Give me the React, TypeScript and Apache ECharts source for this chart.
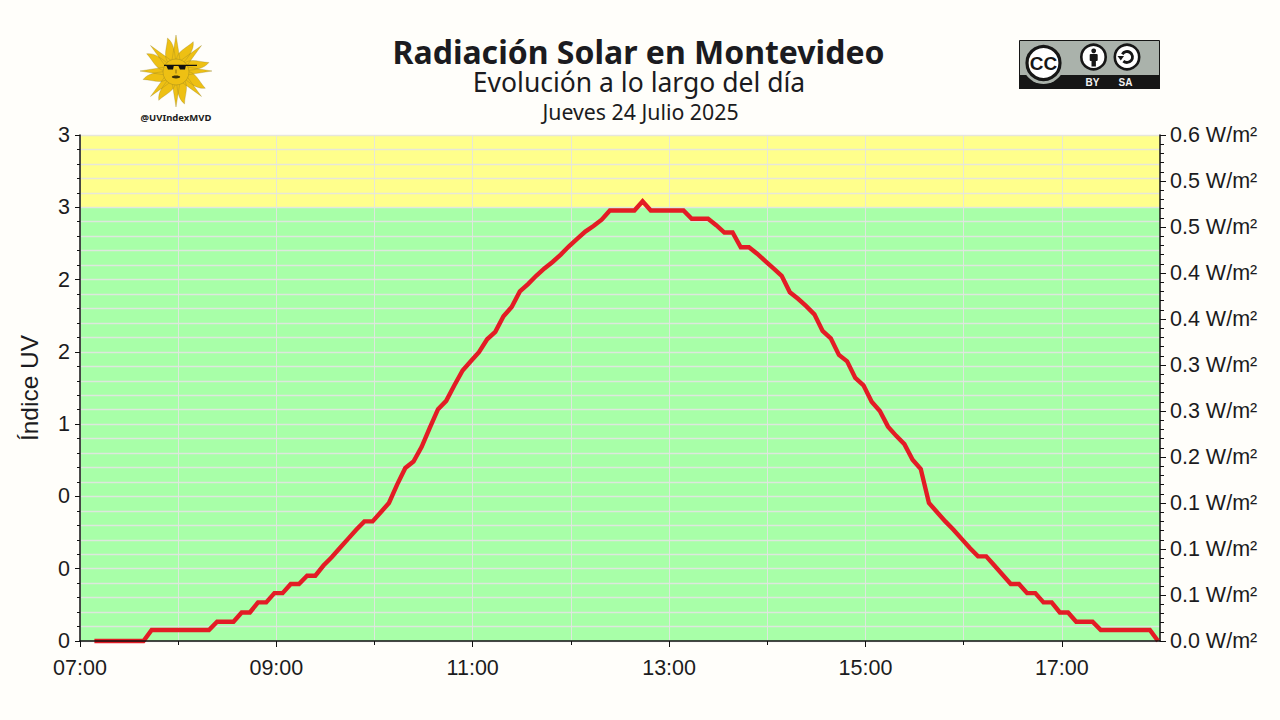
import React, { useEffect, useRef } from "react";
import * as echarts from "echarts";

const titleText = "Radiación Solar en Montevideo";
const subtitleText = "Evolución a lo largo del día";
const dateText = "Jueves 24 Julio 2025";
const handleText = "@UVIndexMVD";
const yAxisTitle = "Índice UV";

// Reference reading: samples every 5 minutes, first one a little after 07:08
const firstSampleMinute = 8.8;
const sampleStep = 5;
const radiation = [
  0, 0, 0, 0, 0, 0, 0,
  0.012, 0.012, 0.012, 0.012, 0.012, 0.012, 0.012, 0.012,
  0.021, 0.021, 0.021, 0.031, 0.031, 0.042, 0.042, 0.052, 0.052, 0.062, 0.062, 0.071, 0.071,
  0.082, 0.091, 0.101, 0.111, 0.121, 0.13, 0.13, 0.14, 0.15, 0.17, 0.188, 0.195, 0.211, 0.232, 0.252, 0.261,
  0.278, 0.294, 0.304, 0.314, 0.328, 0.336, 0.353, 0.363, 0.38, 0.388, 0.397, 0.405, 0.412, 0.42, 0.429,
  0.437, 0.445, 0.451, 0.458, 0.468, 0.468, 0.468, 0.468, 0.478, 0.468, 0.468, 0.468, 0.468, 0.468,
  0.459, 0.459, 0.459, 0.452, 0.444, 0.444, 0.428, 0.428, 0.421, 0.413, 0.405, 0.397, 0.379, 0.372, 0.364,
  0.355, 0.337, 0.329, 0.311, 0.304, 0.286, 0.278, 0.26, 0.25, 0.233, 0.223, 0.214, 0.197, 0.187,
  0.15, 0.14, 0.13, 0.121, 0.111, 0.101, 0.092, 0.092, 0.082, 0.072, 0.062, 0.062, 0.052, 0.052,
  0.042, 0.042, 0.031, 0.031, 0.021, 0.021, 0.021,
  0.012, 0.012, 0.012, 0.012, 0.012, 0.012, 0.012, 0,
];

const leftTickLabels = ["0", "0", "0", "1", "2", "2", "3", "3"];
const rightTickLabels = ["0.0", "0.1", "0.1", "0.1", "0.2", "0.3", "0.3", "0.4", "0.4", "0.5", "0.5", "0.6"];
const majorMinuteTicks = [0, 120, 240, 360, 480, 600];
const greenBand = [0, 3];
const yellowBand = [3, 3.5];

const INK = "#1b1b20";
const LABEL_FONT = "'Liberation Sans', Arial, sans-serif";
const TITLE_FONT = "'Noto Sans', sans-serif";
const GRID = "rgba(228,228,228,0.88)";
const BADGE_GREY = "#aab2ab";
const SUN = "#eec013";

function pol(r: number, deg: number, cx = 0, cy = 0) {
  const a = (deg * Math.PI) / 180;
  return `${(cx + r * Math.cos(a)).toFixed(2)} ${(cy + r * Math.sin(a)).toFixed(2)}`;
}

function sunPath() {
  let d = "";
  for (let i = 0; i < 8; i++) {
    const a = i * 45;
    d += `M${pol(11, a - 22)} L${pol(36, a)} L${pol(11, a + 22)} Z `;
    const w = a + 22.5;
    d += `M${pol(11, w - 20)} C${pol(20, w - 20)} ${pol(25, w + 2)} ${pol(34, w + 8)} `;
    d += `C${pol(28, w + 18)} ${pol(20, w + 18)} ${pol(11, w + 20)} Z `;
  }
  return d;
}

echarts.graphic.registerShape("sunRays", echarts.graphic.extendPath(sunPath(), {}) as any);

function logoGraphics() {
  const cx = 176;
  const cy = 71;
  return [
    { type: "sunRays", x: cx, y: cy, style: { fill: SUN, stroke: "#8d7a25", lineWidth: 0.3 }, silent: true },
    { type: "circle", shape: { cx, cy: cy + 1, r: 13 }, style: { fill: SUN, stroke: "#a08a1e", lineWidth: 0.5 }, silent: true },
    { type: "rect", shape: { x: 164, y: 64.8, width: 33, height: 1.1 }, style: { fill: "#111" }, silent: true },
    { type: "polygon", shape: { points: [[166, 65], [174, 65], [173, 69.5], [168, 69.5]] }, style: { fill: "#111" }, silent: true },
    { type: "polygon", shape: { points: [[178, 65], [186, 65], [185, 69.5], [180, 69.5]] }, style: { fill: "#111" }, silent: true },
    { type: "rect", shape: { x: 175.5, y: 69.5, width: 1, height: 4 }, style: { fill: "#8a6f10" }, silent: true },
    { type: "ellipse", shape: { cx, cy: 77, rx: 4.2, ry: 1.4 }, style: { fill: "#3d3208" }, silent: true },
    {
      type: "text", x: cx, y: 117.5, silent: true,
      style: { text: handleText, fill: INK, font: `700 9.5px ${TITLE_FONT}`, align: "center", verticalAlign: "middle" },
    },
  ];
}

function badgeGraphics() {
  return [
    { type: "rect", shape: { x: 1019.5, y: 40.5, width: 140, height: 48 }, style: { fill: BADGE_GREY, stroke: "#161616", lineWidth: 1 }, silent: true },
    { type: "rect", shape: { x: 1019, y: 75, width: 141, height: 14 }, style: { fill: "#161616" }, silent: true },
    { type: "circle", shape: { cx: 1043.5, cy: 63, r: 21 }, style: { fill: BADGE_GREY }, silent: true },
    { type: "circle", shape: { cx: 1043.5, cy: 63, r: 16.5 }, style: { fill: "#fff", stroke: "#161616", lineWidth: 3.2 }, silent: true },
    { type: "text", x: 1043.5, y: 63.5, silent: true, style: { text: "CC", fill: "#161616", font: `700 19px ${LABEL_FONT}`, align: "center", verticalAlign: "middle" } },
    { type: "circle", shape: { cx: 1093.5, cy: 57, r: 12.2 }, style: { fill: "#fff", stroke: "#161616", lineWidth: 2.6 }, silent: true },
    { type: "circle", shape: { cx: 1093.7, cy: 50.8, r: 2.4 }, style: { fill: "#161616" }, silent: true },
    { type: "rect", shape: { x: 1089.7, y: 54, width: 8, height: 7, r: 1 }, style: { fill: "#161616" }, silent: true },
    { type: "rect", shape: { x: 1091.5, y: 60, width: 4.4, height: 6.5 }, style: { fill: "#161616" }, silent: true },
    { type: "circle", shape: { cx: 1127, cy: 57, r: 12.2 }, style: { fill: "#fff", stroke: "#161616", lineWidth: 2.6 }, silent: true },
    { type: "arc", shape: { cx: 1127, cy: 57, r: 5.5, startAngle: -2.6, endAngle: 2.3 }, style: { fill: "none", stroke: "#161616", lineWidth: 2.8 }, silent: true },
    { type: "polygon", shape: { points: [[1117.5, 56], [1124, 56], [1120.8, 60.5]] }, style: { fill: "#161616" }, silent: true },
    { type: "text", x: 1092.5, y: 82.5, silent: true, style: { text: "BY", fill: "#f2f2f2", font: `700 10px ${LABEL_FONT}`, align: "center", verticalAlign: "middle" } },
    { type: "text", x: 1125.5, y: 82.5, silent: true, style: { text: "SA", fill: "#f2f2f2", font: `700 10px ${LABEL_FONT}`, align: "center", verticalAlign: "middle" } },
  ];
}

function minuteLabel(m: number) {
  const total = 7 * 60 + m;
  const h = Math.floor(total / 60);
  return `${String(h).padStart(2, "0")}:${String(total % 60).padStart(2, "0")}`;
}

export default function App() {
  const ref = useRef<HTMLDivElement>(null);
  useEffect(() => {
    const chart = echarts.init(ref.current!, null, { renderer: "svg" });
    const points = radiation.map((v, i) => [firstSampleMinute + i * sampleStep, v]);
    const labelStyle = { color: INK, fontFamily: LABEL_FONT, fontSize: 21.5 };
    chart.setOption({
      animation: false,
      backgroundColor: "#fffefa",
      title: [
        { text: titleText, left: 633.5, top: 30, textAlign: "center", textStyle: { fontFamily: TITLE_FONT, fontWeight: 700, fontSize: 32, color: INK } },
        { text: subtitleText, left: 634, top: 63, textAlign: "center", textStyle: { fontFamily: TITLE_FONT, fontWeight: 400, fontSize: 26.5, color: INK } },
        { text: dateText, left: 635.5, top: 96, textAlign: "center", textStyle: { fontFamily: TITLE_FONT, fontWeight: 400, fontSize: 21.3, color: INK } },
      ],
      grid: { left: 80, right: 120, top: 135, bottom: 79, containLabel: false, outerBoundsMode: "none" },
      xAxis: [
        {
          type: "value", position: "bottom", min: 0, max: 660, interval: 60, z: 4,
          axisLine: { onZero: false, lineStyle: { color: "#111", width: 1.5 } },
          axisTick: { show: true, length: 4, lineStyle: { color: "#111", width: 1 } },
          splitLine: { show: false },
          axisLabel: {
            ...labelStyle, margin: 16, showMinLabel: true, showMaxLabel: false,
            formatter: (v: number) => (majorMinuteTicks.includes(v) ? minuteLabel(v) : ""),
          },
        },
        {
          type: "value", position: "bottom", min: 0, max: 660, z: 4,
          axisLine: { show: false, onZero: false },
          axisTick: { show: true, length: 6, customValues: majorMinuteTicks, lineStyle: { color: "#111", width: 1 } },
          splitLine: { show: false },
          axisLabel: { show: false },
        },
        {
          type: "value", position: "bottom", min: 0, max: 660, interval: 60,
          axisLine: { show: false, onZero: false },
          axisTick: { show: false },
          splitLine: { show: true, lineStyle: { color: GRID, width: 1 } },
          axisLabel: { show: false },
        },
      ],
      yAxis: [
        {
          type: "value", position: "left", min: 0, max: 3.5, interval: 0.5,
          name: yAxisTitle, nameLocation: "middle", nameGap: 38,
          nameTextStyle: { color: INK, fontFamily: LABEL_FONT, fontSize: 24.5 },
          axisLine: { show: true, onZero: false, lineStyle: { color: "#111", width: 1.5 } },
          axisTick: { show: true, length: 5, lineStyle: { color: "#111", width: 1 } },
          minorTick: { show: true, splitNumber: 5, length: 3, lineStyle: { color: "#111", width: 1 } },
          splitLine: { show: true, lineStyle: { color: GRID, width: 1.3 } },
          minorSplitLine: { show: true, lineStyle: { color: GRID, width: 1.3 } },
          axisLabel: {
            ...labelStyle, margin: 10,
            formatter: (v: number) => leftTickLabels[Math.round(v / 0.5)],
          },
        },
        {
          type: "value", position: "right", min: 0, max: 0.55, interval: 0.05,
          axisLine: { show: true, onZero: false, lineStyle: { color: "#111", width: 1.5 } },
          axisTick: { show: true, length: 6, lineStyle: { color: "#111", width: 1 } },
          minorTick: { show: true, splitNumber: 5, length: 4, lineStyle: { color: "#111", width: 1 } },
          splitLine: { show: false },
          minorSplitLine: { show: false },
          axisLabel: {
            ...labelStyle, margin: 10,
            formatter: (v: number) => `${rightTickLabels[Math.round(v / 0.05)]} W/m²`,
          },
        },
      ],
      series: [
        {
          type: "line", xAxisIndex: 0, yAxisIndex: 0, data: [], z: -2, silent: true,
          markArea: {
            z: -2, silent: true,
            data: [
              [{ xAxis: 0, yAxis: greenBand[0], itemStyle: { color: "#a8ffa8", opacity: 1 } }, { xAxis: 660, yAxis: greenBand[1] }],
              [{ xAxis: 0, yAxis: yellowBand[0], itemStyle: { color: "#ffff8c", opacity: 1 } }, { xAxis: 660, yAxis: yellowBand[1] }],
            ],
          },
        },
        {
          type: "line", xAxisIndex: 0, yAxisIndex: 1, data: points, z: 2, silent: true,
          showSymbol: false, symbol: "none", smooth: false, clip: false,
          lineStyle: { color: "#e31c25", width: 4.4, join: "miter" },
        },
      ],
      graphic: [...logoGraphics(), ...badgeGraphics()],
    });
    return () => chart.dispose();
  }, []);
  return <div ref={ref} style={{ position: "fixed", left: 0, top: 0, width: 1280, height: 720 }} />;
}
